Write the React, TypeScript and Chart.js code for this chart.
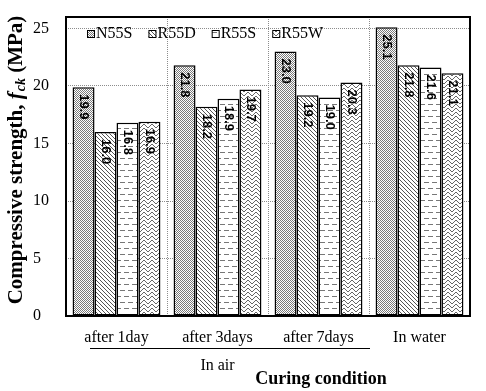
import React, { useEffect, useRef } from 'react';
import { Chart, registerables } from 'chart.js';
Chart.register(...registerables);

const categories = ['after 1day', 'after 3days', 'after 7days', 'In water'];
const seriesNames = ['N55S', 'R55D', 'R55S', 'R55W'];
const n55s = [19.9, 21.8, 23.0, 25.1];
const r55d = [16.0, 18.2, 19.2, 21.8];
const r55s = [16.8, 18.9, 19.0, 21.6];
const r55w = [16.9, 19.7, 20.3, 21.1];
const yTickValues = [0, 5, 10, 15, 20, 25];
const yMin = 0;
const yMax = 26;
const groupLabel = 'In air';
const groupCount = 3;
const xTitle = 'Curing condition';
const yTitleMain = 'Compressive strength, ';
const yTitleSym = 'f';
const yTitleSub = 'ck';
const yTitleUnit = ' (MPa)';

const SERIF = '"Liberation Serif", "Times New Roman", serif';
const SANS = '"Liberation Sans", Arial, sans-serif';

function makePattern(kind: string): CanvasPattern | string {
  const c = document.createElement('canvas');
  let w = 8, h = 8;
  if (kind === 'dots') { w = 2; h = 2; }
  if (kind === 'diag') { w = 4; h = 4; }
  if (kind === 'dash') { w = 8; h = 12; }
  if (kind === 'weave') { w = 8; h = 8; }
  c.width = w; c.height = h;
  const g = c.getContext('2d')!;
  g.fillStyle = '#fff';
  g.fillRect(0, 0, w, h);
  if (kind === 'dots') {
    g.fillStyle = '#7a7a7a';
    g.fillRect(0, 0, 1, 1);
    g.fillRect(1, 1, 1, 1);
  } else if (kind === 'diag') {
    g.fillStyle = '#555';
    for (let i = 0; i < 4; i++) g.fillRect(i, i, 1, 1);
  } else if (kind === 'dash') {
    g.fillStyle = '#777';
    g.fillRect(0, 2, 5, 1);
    g.fillRect(4, 8, 4, 1);
    g.fillRect(0, 8, 1, 1);
  } else if (kind === 'weave') {
    g.fillStyle = '#666';
    for (let x = 0; x < 8; x++) {
      const t = x < 4 ? x : 7 - x;
      g.fillRect(x, t, 1, 1);
      g.fillRect(x, (t + 4) % 8, 1, 1);
    }
  }
  const ctx = document.createElement('canvas').getContext('2d')!;
  return ctx.createPattern(c, 'repeat') || '#ccc';
}

export default function App() {
  const ref = useRef<HTMLCanvasElement | null>(null);
  useEffect(() => {
    if (!ref.current) return;
    const pats = [makePattern('dots'), makePattern('diag'), makePattern('dash'), makePattern('weave')];
    const seriesData = [n55s, r55d, r55s, r55w];

    const labelPlugin = {
      id: 'valueLabels',
      afterDatasetsDraw(chart: any) {
        const ctx = chart.ctx;
        chart.data.datasets.forEach((ds: any, i: number) => {
          const meta = chart.getDatasetMeta(i);
          meta.data.forEach((el: any, j: number) => {
            const v = ds.data[j] as number;
            ctx.save();
            ctx.translate(el.x, el.y + 7);
            ctx.rotate(Math.PI / 2);
            ctx.font = 'bold 13px ' + SANS;
            ctx.fillStyle = '#000';
            ctx.textAlign = 'left';
            ctx.textBaseline = 'middle';
            ctx.fillText(v.toFixed(1), 0, 0);
            ctx.restore();
          });
        });
      },
    };

    const decoPlugin = {
      id: 'deco',
      afterDraw(chart: any) {
        const ctx = chart.ctx;
        const a = chart.chartArea;
        const xs = chart.scales.x;
        ctx.save();
        ctx.strokeStyle = '#000';
        ctx.lineWidth = 2;
        ctx.strokeRect(a.left, a.top, a.right - a.left, a.bottom - a.top);
        ctx.restore();

        // legend
        ctx.save();
        ctx.font = '16px ' + SERIF;
        ctx.textBaseline = 'middle';
        ctx.textAlign = 'left';
        let lx = a.left + 21;
        const ly = a.top + 17;
        seriesNames.forEach((name, i) => {
          ctx.fillStyle = pats[i] as any;
          ctx.fillRect(lx, ly - 4, 8, 8);
          ctx.strokeStyle = '#000';
          ctx.lineWidth = 1;
          ctx.strokeRect(lx + 0.5, ly - 3.5, 7, 7);
          ctx.fillStyle = '#000';
          ctx.fillText(name, lx + 9, ly);
          lx += 9 + ctx.measureText(name).width + 16;
        });
        ctx.restore();

        // y title
        ctx.save();
        ctx.translate(17, 160);
        ctx.rotate(-Math.PI / 2);
        ctx.fillStyle = '#000';
        ctx.textBaseline = 'middle';
        ctx.textAlign = 'left';
        const fMain = 'bold 21px ' + SERIF;
        const fSym = 'italic bold 21px ' + SERIF;
        const fSub = 'italic bold 14px ' + SERIF;
        ctx.font = fMain; const w1 = ctx.measureText(yTitleMain).width;
        ctx.font = fSym; const w2 = ctx.measureText(yTitleSym).width + 1;
        ctx.font = fSub; const w3 = ctx.measureText(yTitleSub).width;
        ctx.font = fMain; const w4 = ctx.measureText(yTitleUnit).width;
        let tx = -(w1 + w2 + w3 + w4) / 2;
        ctx.font = fMain; ctx.fillText(yTitleMain, tx, 0); tx += w1;
        ctx.font = fSym; ctx.fillText(yTitleSym, tx, 0); tx += w2;
        ctx.font = fSub; ctx.fillText(yTitleSub, tx, 4); tx += w3;
        ctx.font = fMain; ctx.fillText(yTitleUnit, tx, 0);
        ctx.restore();

        // group bracket "In air"
        const catW = (a.right - a.left) / categories.length;
        const gStart = a.left;
        const gEnd = a.left + catW * groupCount;
        ctx.save();
        ctx.strokeStyle = '#000';
        ctx.lineWidth = 1;
        ctx.beginPath();
        ctx.moveTo(gStart + 24, xs.top + 32.5);
        ctx.lineTo(gEnd + 1, xs.top + 32.5);
        ctx.stroke();
        ctx.fillStyle = '#000';
        ctx.font = '16px ' + SERIF;
        ctx.textAlign = 'center';
        ctx.textBaseline = 'middle';
        ctx.fillText(groupLabel, (gStart + gEnd) / 2, xs.top + 50);
        ctx.font = 'bold 18px ' + SERIF;
        ctx.fillText(xTitle, 321, xs.top + 63);
        ctx.restore();
      },
    };

    const chart = new Chart(ref.current, {
      type: 'bar',
      data: {
        labels: categories,
        datasets: seriesNames.map((name, i) => ({
          label: name,
          data: seriesData[i],
          backgroundColor: pats[i] as any,
          borderColor: '#000',
          borderWidth: 1.5,
          borderSkipped: false,
          barPercentage: 1,
          categoryPercentage: 0.87,
        })),
      },
      options: {
        responsive: false,
        animation: false,
        devicePixelRatio: 1,
        layout: { padding: { left: 33, top: 17, right: 16, bottom: 0 } },
        plugins: { legend: { display: false }, tooltip: { enabled: false } },
        scales: {
          x: {
            offset: true,
            grid: { display: true, offset: true, color: '#8c8c8c', lineWidth: 1, drawTicks: false },
            border: { display: false, dash: [1, 1] },
            ticks: { color: '#000', font: { family: SERIF, size: 16 }, padding: 12, maxRotation: 0 },
            afterFit(scale: any) { scale.height = 75; },
          },
          y: {
            min: yMin,
            max: yMax,
            grid: { color: '#8c8c8c', lineWidth: 1, drawTicks: false },
            border: { display: false, dash: [1, 1] },
            ticks: { stepSize: 5, color: '#000', font: { family: SERIF, size: 16 }, crossAlign: 'far', padding: 0 },
            afterBuildTicks(scale: any) { scale.ticks = yTickValues.map((v) => ({ value: v })); },
            afterFit(scale: any) { scale.width = 33; },
          },
        },
      },
      plugins: [labelPlugin, decoPlugin],
    } as any);
    return () => chart.destroy();
  }, []);
  return (
    <div style={{ position: 'absolute', left: 0, top: 0, width: 486, height: 391, background: '#fff' }}>
      <canvas ref={ref} width={486} height={391} style={{ display: 'block' }} />
    </div>
  );
}
